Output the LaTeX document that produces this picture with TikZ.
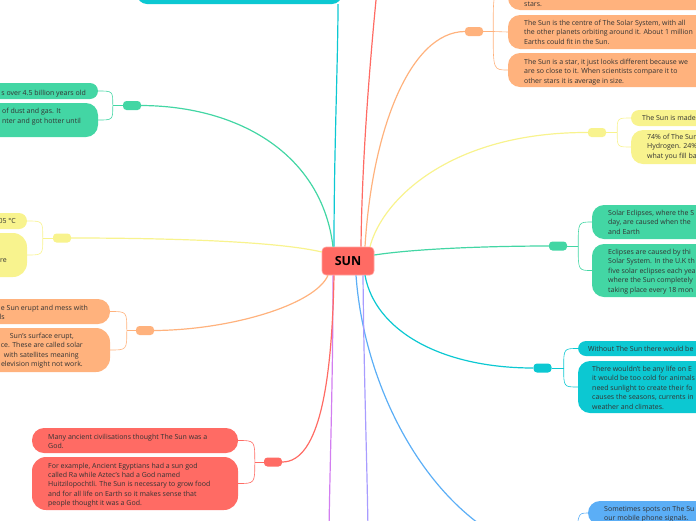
\documentclass[tikz,border=0pt]{standalone}
\usepackage{fontspec}
\setmainfont{Open Sans}
\usetikzlibrary{fit}
\definecolor{sunred}{HTML}{FF6B64}
\definecolor{cyanc}{HTML}{0CC8D2}
\definecolor{orangec}{HTML}{FFB27D}
\definecolor{yellowc}{HTML}{F8F38E}
\definecolor{greenc}{HTML}{43D6A4}
\definecolor{bluec}{HTML}{5BAEF6}
\definecolor{magc}{HTML}{D27EF0}
\definecolor{lavc}{HTML}{A89CFF}
\definecolor{textc}{HTML}{333333}
\tikzset{
  bx/.style 2 args={fill=#1, rounded corners=#2, inner sep=0pt, draw=none},
  hub/.style={fill=#1, rounded corners=3.5pt, minimum width=18pt, minimum height=9pt, inner sep=0pt},
  txt/.style={font=\fontsize{7}{9.4}\selectfont, text=textc, inner sep=0pt},
  mainln/.style={draw=#1, line width=1.2pt},
  brk/.style={draw=#1, line width=0.6pt},
}
\newcommand\para[4]{%
  \foreach \l [count=\i] in {#4} {\node[txt,anchor=base west] (#1-\i) at (#2, #3+9.4*\i-9.4) {\l};}}
\begin{document}
\begin{tikzpicture}[x=1pt,y=-1pt]
\useasboundingbox (0,0) rectangle (696,520);
\clip (0,0) rectangle (696,520);
% ---------- boxes ----------
\node[bx={cyanc}{10pt}, fit={(137,-40) (342,4)}] (ctop) {};
% right orange
\node[bx={orangec}{12pt}, fit={(508,-30) (720,10)}] (o1) {};
\node[bx={orangec}{12pt}, fit={(508,15) (720,49)}] (o2) {};
\node[bx={orangec}{12pt}, fit={(508,53) (720,87)}] (o3) {};
\node[hub=orangec] (oh) at (474,31.5) {};
% right yellow
\node[bx={yellowc}{8pt}, fit={(631,110) (720,126)}] (y1) {};
\node[bx={yellowc}{12pt}, fit={(631,130) (720,164)}] (y2) {};
\node[hub=yellowc] (yh) at (597,132.5) {};
% right green
\node[bx={greenc}{12pt}, fit={(592,205) (720,239)}] (g1) {};
\node[bx={greenc}{12pt}, fit={(592,244) (720,297)}] (g2) {};
\node[hub=greenc] (grh) at (558,246) {};
% right cyan
\node[bx={cyanc}{8pt}, fit={(578,341) (720,356)}] (c1) {};
\node[bx={cyanc}{12pt}, fit={(578,361) (720,413)}] (c2) {};
\node[hub=cyanc] (crh) at (542.5,368) {};
% right blue
\node[bx={bluec}{12pt}, fit={(588,501) (720,525)}] (b1) {};
\node[hub=bluec] (bh) at (553,555) {};
% left green
\node[bx={greenc}{8pt}, fit={(-30,83) (98,99)}] (gl1) {};
\node[bx={greenc}{12pt}, fit={(-30,103) (98,137)}] (gl2) {};
\node[hub=greenc] (glh) at (132,105.5) {};
% left yellow
\node[bx={yellowc}{8pt}, fit={(-30,213) (27,229)}] (yl1) {};
\node[bx={yellowc}{14pt}, fit={(-30,233) (27,277)}] (yl2) {};
\node[hub=yellowc] (ylh) at (62,238) {};
% left orange
\node[bx={orangec}{12pt}, fit={(-30,299) (110,324)}] (ol1) {};
\node[bx={orangec}{14pt}, fit={(-30,328) (110,372)}] (ol2) {};
\node[hub=orangec] (olh) at (145,330.5) {};
% left red
\node[bx={sunred}{12pt}, fit={(32,428) (238,453)}] (r1) {};
\node[bx={sunred}{14pt}, fit={(32,457) (238,510)}] (r2) {};
\node[hub=sunred] (rh) at (273,462) {};
% centre
\node[fill=sunred, draw=sunred!60!white, line width=0.6pt, rounded corners=4pt, minimum width=52pt, minimum height=28pt, inner sep=0pt, font=\fontsize{12.5}{14}\selectfont\bfseries] (sun) at (348,261) {SUN};
\coordinate (rtop) at (377,-10);
\coordinate (lv) at (368,530);
\coordinate (mg) at (329,530);
% ---------- main connectors ----------
\draw[mainln=cyanc] ([xshift=-14pt]sun.north) .. controls (334,150) and (338,60) .. ([xshift=98.5pt]ctop.south);
\draw[mainln=sunred] ([xshift=13pt]sun.north) .. controls (362,150) and (372,40) .. (rtop);
\draw[mainln=orangec] ([xshift=17pt]sun.north) .. controls (372,130) and (410,32) .. (oh.west);
\draw[mainln=yellowc] ([xshift=22pt]sun.north) .. controls (382,200) and (450,132) .. (yh.west);
\draw[mainln=greenc] ([yshift=6pt]sun.east) .. controls (420,248) and (500,246) .. (grh.west);
\draw[mainln=cyanc] ([xshift=17pt]sun.south) .. controls (375,330) and (440,368) .. (crh.west);
\draw[mainln=bluec] ([xshift=8pt]sun.south) .. controls (365,400) and (440,530) .. (bh.west);
\draw[mainln=lavc] ([xshift=15pt]sun.south) .. controls (364,380) and (367,460) .. (lv);
\draw[mainln=magc] ([xshift=-15pt]sun.south) .. controls (333,380) and (330,460) .. (mg);
\draw[mainln=sunred] ([xshift=-14pt]sun.south) .. controls (332,380) and (320,462) .. (rh.east);
\draw[mainln=orangec] ([xshift=-20pt]sun.south) .. controls (315,305) and (230,330) .. (olh.east);
\draw[mainln=yellowc] ([yshift=9pt]sun.west) .. controls (280,242) and (180,238) .. (ylh.east);
\draw[mainln=greenc] ([xshift=-15pt]sun.north) .. controls (322,155) and (240,106) .. (glh.east);
% ---------- brackets ----------
\draw[brk=orangec] (oh.east) -- ++(10,0) coordinate (ob);
\draw[brk=orangec] (ob) .. controls (ob |- o1.west) .. (o1.west);
\draw[brk=orangec] (ob) -- (o2.west);
\draw[brk=orangec] (ob) .. controls (ob |- o3.west) .. (o3.west);
\draw[brk=yellowc] (yh.east) -- ++(11,0) coordinate (yb);
\draw[brk=yellowc] (yb) .. controls (yb |- y1.west) .. (y1.west);
\draw[brk=yellowc] (yb) .. controls (yb |- y2.west) .. (y2.west);
\draw[brk=greenc] (grh.east) -- ++(11,0) coordinate (gb);
\draw[brk=greenc] (gb) .. controls (gb |- g1.west) .. (g1.west);
\draw[brk=greenc] (gb) .. controls (gb |- g2.west) .. (g2.west);
\draw[brk=cyanc] (crh.east) -- ++(12,0) coordinate (cb);
\draw[brk=cyanc] (cb) .. controls (cb |- c1.west) .. (c1.west);
\draw[brk=cyanc] (cb) .. controls (cb |- c2.west) .. (c2.west);
\draw[brk=bluec] (bh.east) -- ++(15,0) coordinate (bb);
\draw[brk=bluec] (bb) .. controls (bb |- b1.west) .. (b1.west);
\draw[brk=greenc] (glh.west) -- ++(-10,0) coordinate (glb);
\draw[brk=greenc] (glb) .. controls (glb |- gl1.east) .. (gl1.east);
\draw[brk=greenc] (glb) .. controls (glb |- gl2.east) .. (gl2.east);
\draw[brk=yellowc] (ylh.west) -- ++(-10,0) coordinate (ylb);
\draw[brk=yellowc] (ylb) .. controls (ylb |- yl1.east) .. (yl1.east);
\draw[brk=yellowc] (ylb) .. controls (ylb |- yl2.east) .. (yl2.east);
\draw[brk=orangec] (olh.west) -- ++(-9,0) coordinate (olb);
\draw[brk=orangec] (olb) .. controls (olb |- ol1.east) .. (ol1.east);
\draw[brk=orangec] (olb) .. controls (olb |- ol2.east) .. (ol2.east);
\draw[brk=sunred] (rh.west) -- ++(-9,0) coordinate (rb);
\draw[brk=sunred] (rb) .. controls (rb |- r1.east) .. (r1.east);
\draw[brk=sunred] (rb) .. controls (rb |- r2.east) .. (r2.east);
% ---------- texts ----------
\para{to1}{524}{6.5}{stars.}
\para{to2}{524}{25.5}{{The Sun is the centre of The Solar System, with all},{the other planets orbiting around it. About 1 million},{Earths could fit in the Sun.}}
\para{to3}{524}{64.5}{{The Sun is a star, it just looks different because we},{are so close to it. When scientists compare it to},{other stars it is average in size.}}
\para{ty1}{642}{120.5}{The Sun is made}
\para{ty2}{647}{139.5}{{74\% of The Sun},{Hydrogen. 24\%},{what you fill ba}}
\para{tg1}{608}{215.5}{{Solar Eclipses, where the S},{day, are caused when the},{and Earth}}
\para{tg2}{608}{254.5}{{Eclipses are caused by thi},{Solar System. In the U.K th},{five solar eclipses each yea},{where the Sun completely},{taking place every 18 mon}}
\para{tc1}{588}{351.5}{Without The Sun there would be}
\para{tc2}{592}{371.5}{{There wouldn't be any life on E},{it would be too cold for animals},{need sunlight to create their fo},{causes the seasons, currents in},{weather and climates.}}
\para{tb1}{604}{511.5}{{Sometimes spots on The Su},{our mobile phone signals.}}
\para{tr1}{48}{439.5}{{Many ancient civilisations thought The Sun was a},{God.}}
\para{tr2}{48}{468}{{For example, Ancient Egyptians had a sun god},{called Ra while Aztec's had a God named},{Huitzilopochtli. The Sun is necessary to grow food},{and for all life on Earth so it makes sense that},{people thought it was a God.}}
% left cut fragments
\node[txt,anchor=base east] (tgl1) at (86,95.5) {s over 4.5 billion years old};
\node[txt,anchor=base east] (tgl2a) at (61,113.5) {of dust and gas. It};
\node[txt,anchor=base east] (tgl2b) at (81,123) {nter and got hotter until};
\node[txt,anchor=base east] (tyl1) at (16,223.5) {05 °C};
\node[txt,anchor=base east] (tyl2) at (7,262.5) {re};
\node[txt,anchor=base east] (tol1a) at (88,310.5) {e Sun erupt and mess with};
\node[txt,anchor=base east] (tol1b) at (5,319.5) {ls};
\node[txt,anchor=base east] (tol2a) at (74,338.5) {Sun's surface erupt,};
\node[txt,anchor=base east] (tol2b) at (83,347.5) {ce. These are called solar};
\node[txt,anchor=base east] (tol2c) at (79,357) {with satellites meaning};
\node[txt,anchor=base east] (tol2d) at (83,366.5) {elevision might not work.};
\end{tikzpicture}
\end{document}
